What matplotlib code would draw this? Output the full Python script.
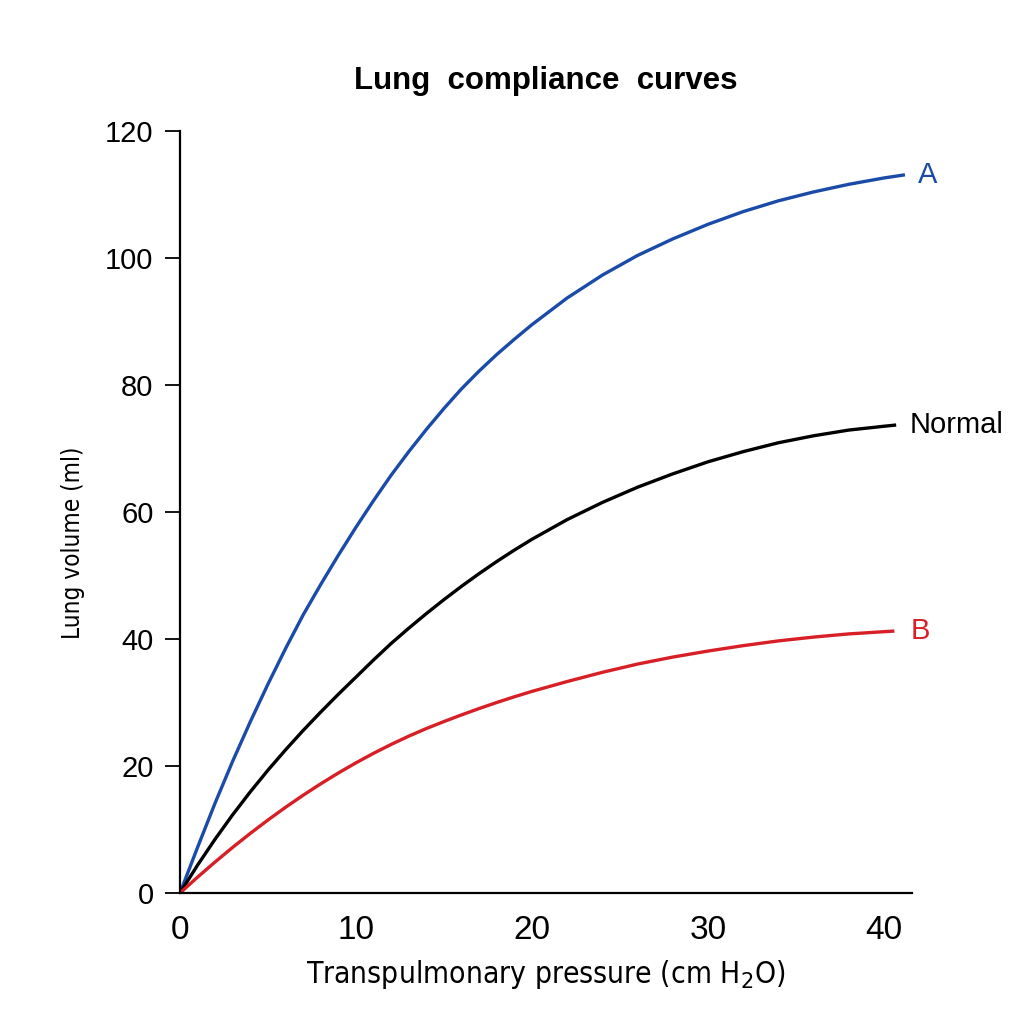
import matplotlib
matplotlib.use("Agg")
import matplotlib.pyplot as plt
from matplotlib import font_manager
from matplotlib.font_manager import FontProperties

# ---- data ----
pressure_A = [0, 1, 2, 3, 4, 5, 6, 7, 8, 9, 10, 11, 12, 13, 14, 15, 16, 17, 18, 19, 20,
              22, 24, 26, 28, 30, 32, 34, 36, 38, 40, 41.2]
volume_A = [0, 7.2, 14.2, 20.8, 27.0, 32.9, 38.5, 43.8, 48.6, 53.2, 57.6, 61.8, 65.8, 69.5, 73.0, 76.3,
            79.4, 82.2, 84.8, 87.2, 89.5, 93.7, 97.3, 100.4, 103.0, 105.3, 107.3, 109.0, 110.4, 111.6,
            112.6, 113.1]

pressure_N = [0, 1, 2, 3, 4, 5, 6, 7, 8, 9, 10, 11, 12, 13, 14, 15, 16, 17, 18, 19, 20,
              22, 24, 26, 28, 30, 32, 34, 36, 38, 40, 40.7]
volume_N = [0, 4.4, 8.5, 12.35, 15.95, 19.35, 22.55, 25.6, 28.5, 31.3, 34.0, 36.7, 39.3, 41.7, 44.0, 46.2,
            48.3, 50.3, 52.2, 54.0, 55.7, 58.8, 61.5, 63.9, 66.0, 67.9, 69.5, 70.9, 72.0, 72.9, 73.5, 73.7]

pressure_B = [0, 1, 2, 3, 4, 5, 6, 7, 8, 9, 10, 11, 12, 13, 14, 15, 16, 17, 18, 19, 20,
              22, 24, 26, 28, 30, 32, 34, 36, 38, 40, 40.6]
volume_B = [0, 2.5, 4.9, 7.2, 9.4, 11.5, 13.5, 15.4, 17.2, 18.9, 20.5, 22.0, 23.4, 24.7, 25.9, 27.0,
            28.05, 29.05, 30.0, 30.9, 31.75, 33.3, 34.75, 36.05, 37.15, 38.1, 38.95, 39.7, 40.3, 40.8,
            41.15, 41.25]

x_ticks = [0, 10, 20, 30, 40]
y_ticks = [0, 20, 40, 60, 80, 100, 120]
curve_labels = ["A", "Normal", "B"]

BLUE = "#1a4ba8"
RED = "#d81f26"
BLACK = "#000000"

plt.rcParams["font.family"] = ["Liberation Sans", "DejaVu Sans"]

# look for a condensed sans face (reference uses a narrow face for axis labels)
narrow_file = None
for f in font_manager.fontManager.ttflist:
    fn = f.fname.lower()
    if ("narrow" in fn or "condensed" in fn) and "bold" not in fn and "italic" not in fn \
            and "oblique" not in fn and "mono" not in fn and "serif" not in fn:
        narrow_file = f.fname
        break

fig = plt.figure(figsize=(10.24, 10.24), dpi=100)
ax = fig.add_axes([180 / 1024, 1 - 893 / 1024, 732 / 1024, 762 / 1024])

for xs, ys, c in [(pressure_A, volume_A, BLUE), (pressure_N, volume_N, BLACK), (pressure_B, volume_B, RED)]:
    ax.plot(xs, ys, color=c, lw=2.4, solid_capstyle="butt", solid_joinstyle="round")

ax.set_xlim(0, 41.6)
ax.set_ylim(0, 120)
ax.spines["top"].set_visible(False)
ax.spines["right"].set_visible(False)
ax.spines["left"].set_linewidth(1.6)
ax.spines["bottom"].set_linewidth(1.6)

ax.set_xticks(x_ticks)
ax.set_yticks(y_ticks)
ax.tick_params(axis="x", length=0, pad=16, labelsize=24)
ax.tick_params(axis="y", length=11, width=1.3, pad=8, labelsize=21)

if narrow_file:
    fp_y = FontProperties(fname=narrow_file, size=17.5)
    fp_x = FontProperties(fname=narrow_file, size=21.5)
    ax.set_xlabel("Transpulmonary pressure (cm H$_2$O)", fontproperties=fp_x)
    ax.set_ylabel("Lung volume (ml)", fontproperties=fp_y)
else:
    ax.set_xlabel("Transpulmonary pressure (cm H$_2$O)", fontsize=22)
    ax.set_ylabel("Lung volume (ml)", fontsize=17)
ax.xaxis.set_label_coords(0.5, -0.085)
ax.yaxis.set_label_coords(-0.13, 0.459)

ax.set_title("Lung  compliance  curves", fontsize=22.5, fontweight="bold", pad=30)

ax.text(pressure_A[-1] + 0.75, volume_A[-1], curve_labels[0], color=BLUE, fontsize=21,
        ha="left", va="center", clip_on=False)
ax.text(pressure_N[-1] + 0.75, volume_N[-1], curve_labels[1], color=BLACK, fontsize=21,
        ha="left", va="center", clip_on=False)
ax.text(pressure_B[-1] + 0.9, volume_B[-1], curve_labels[2], color=RED, fontsize=21,
        ha="left", va="center", clip_on=False)

fig.savefig("out.png", dpi=100, facecolor="white")
